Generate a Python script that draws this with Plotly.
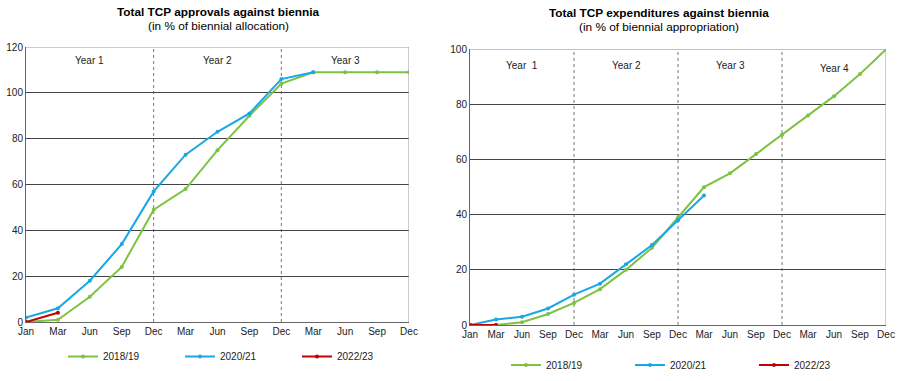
import plotly.graph_objects as go

# ---- data ----
left_ticks = ["Jan", "Mar", "Jun", "Sep", "Dec", "Mar", "Jun", "Sep", "Dec", "Mar", "Jun", "Sep", "Dec"]
right_ticks = ["Jan", "Mar", "Jun", "Sep", "Dec", "Mar", "Jun", "Sep", "Dec",
               "Mar", "Jun", "Sep", "Dec", "Mar", "Jun", "Sep", "Dec"]

appr_2018 = [0, 1, 11, 24, 49, 58, 75, 90, 104, 109, 109, 109, 109]
appr_2020 = [2, 6, 18, 34, 57, 73, 83, 91, 106, 109]
appr_2022 = [0, 4]

exp_2018 = [0, 0, 1, 4, 8, 13, 20, 28, 39, 50, 55, 62, 69, 76, 83, 91, 100]
exp_2020 = [0, 2, 3, 6, 11, 15, 22, 29, 38, 47]
exp_2022 = [0, 0]

series_names = ["2018/19", "2020/21", "2022/23"]
colors = ["#7DC242", "#1AA7E6", "#C00000"]

left_years = ["Year 1", "Year 2", "Year 3"]
right_years = ["Year  1", "Year 2", "Year 3", "Year 4"]

FONT = "Liberation Sans, Arial, sans-serif"

fig = go.Figure()

def add_series(vals_list, xa, ya, legend):
    for name, vals, col in zip(series_names, vals_list, colors):
        fig.add_trace(go.Scatter(
            x=list(range(len(vals))), y=vals, name=name, mode="lines+markers",
            line=dict(color=col, width=2), marker=dict(color=col, size=4),
            xaxis=xa, yaxis=ya, legend=legend, showlegend=True))

add_series([appr_2018, appr_2020, appr_2022], "x", "y", "legend")
add_series([exp_2018, exp_2020, exp_2022], "x2", "y2", "legend2")

W, H = 900, 381
def xd(a, b):
    return [a / W, b / W]
def yd(bottom, top):
    return [1 - bottom / H, 1 - top / H]

axis_common = dict(showline=True, linecolor="#666", linewidth=1, mirror=False,
                   ticks="", tickfont=dict(family=FONT, size=10, color="#222"),
                   zeroline=False, automargin=False)

fig.update_layout(
    width=W, height=H, margin=dict(l=0, r=0, t=0, b=0, autoexpand=False),
    paper_bgcolor="white", plot_bgcolor="white",
    font=dict(family=FONT, size=10, color="#222"),
    xaxis=dict(domain=xd(26, 409), range=[0, 12], tickvals=list(range(13)), ticktext=left_ticks,
               showgrid=False, anchor="y", **axis_common),
    yaxis=dict(domain=yd(322, 47), range=[0, 120], tickvals=list(range(0, 121, 20)),
               showgrid=True, gridcolor="#444", gridwidth=1, anchor="x", **axis_common),
    xaxis2=dict(domain=xd(470, 886), range=[0, 16], tickvals=list(range(17)), ticktext=right_ticks,
                showgrid=False, anchor="y2", **axis_common),
    yaxis2=dict(domain=yd(325, 49.3), range=[0, 100], tickvals=list(range(0, 101, 20)),
                showgrid=True, gridcolor="#444", gridwidth=1, anchor="x2", **axis_common),
    legend=dict(orientation="h", x=63 / W, y=1 - 356.5 / H, xanchor="left", yanchor="middle",
                entrywidth=72, itemwidth=30, font=dict(family=FONT, size=10, color="#222"),
                bgcolor="rgba(0,0,0,0)"),
    legend2=dict(orientation="h", x=506 / W, y=1 - 365 / H, xanchor="left", yanchor="middle",
                 entrywidth=79, itemwidth=30, font=dict(family=FONT, size=10, color="#222"),
                 bgcolor="rgba(0,0,0,0)"),
)

shapes = []
# frame (top/right border lighter gray)
for xr, yr, top, right in [("x", "y", 120, 12), ("x2", "y2", 100, 16)]:
    shapes.append(dict(type="line", xref=xr, yref=yr, x0=0, x1=right, y0=top, y1=top,
                       line=dict(color="#999", width=1)))
    shapes.append(dict(type="line", xref=xr, yref=yr, x0=right, x1=right, y0=0, y1=top,
                       line=dict(color="#999", width=1)))
# dotted year separators
for xv in [4, 8]:
    shapes.append(dict(type="line", xref="x", yref="y", x0=xv, x1=xv, y0=0, y1=120,
                       line=dict(color="#777", width=1, dash="dot"), layer="below"))
for xv in [4, 8, 12]:
    shapes.append(dict(type="line", xref="x2", yref="y2", x0=xv, x1=xv, y0=0, y1=100,
                       line=dict(color="#777", width=1, dash="dot"), layer="below"))
fig.update_layout(shapes=shapes)

ann = []
for i, t in enumerate(left_years):
    ann.append(dict(text=t, xref="x", yref="y", x=2 + 4 * i, y=114, showarrow=False,
                    xanchor="center", font=dict(family=FONT, size=10, color="#222")))
for i, t in enumerate(right_years):
    ann.append(dict(text=t, xref="x2", yref="y2", x=2 + 4 * i, y=(94 if i < 3 else 93), showarrow=False,
                    xanchor="center", font=dict(family=FONT, size=10, color="#222")))
ann.append(dict(text="<b>Total TCP approvals against biennia</b>", xref="paper", yref="paper",
                x=218 / W, y=1 - 12 / H, showarrow=False, xanchor="center", yanchor="middle",
                font=dict(family=FONT, size=11.8, color="#000")))
ann.append(dict(text="(in % of biennial allocation)", xref="paper", yref="paper",
                x=218 / W, y=1 - 26 / H, showarrow=False, xanchor="center", yanchor="middle",
                font=dict(family=FONT, size=11.8, color="#000")))
ann.append(dict(text="<b>Total TCP expenditures against biennia</b>", xref="paper", yref="paper",
                x=659 / W, y=1 - 13 / H, showarrow=False, xanchor="center", yanchor="middle",
                font=dict(family=FONT, size=11.8, color="#000")))
ann.append(dict(text="(in % of biennial appropriation)", xref="paper", yref="paper",
                x=659 / W, y=1 - 27 / H, showarrow=False, xanchor="center", yanchor="middle",
                font=dict(family=FONT, size=11.8, color="#000")))
fig.update_layout(annotations=ann)

fig.write_html("out.html", config={"displayModeBar": False},
               post_script="document.body.style.margin='0';document.body.style.padding='0';")
